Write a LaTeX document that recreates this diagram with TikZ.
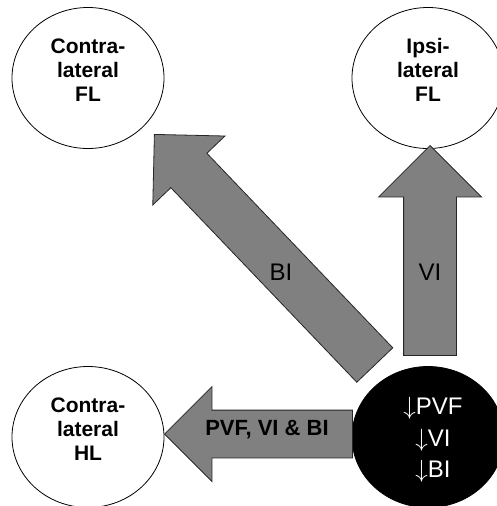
\documentclass[tikz,border=0pt]{standalone}
\usepackage{fontspec}
\setmainfont{Liberation Sans}
\usetikzlibrary{shapes.geometric,shapes.arrows}
\tikzset{
  limb/.style={ellipse,draw,line width=0.8pt,minimum width=152pt,minimum height=141pt,inner sep=0pt},
  limbtext/.style={align=center,font=\fontsize{21}{24}\selectfont\bfseries},
  bigarrow/.style={single arrow,draw=black!85,fill=gray,line width=0.8pt,inner xsep=0pt,inner ysep=25pt,
    single arrow tip angle=90,single arrow head extend=25pt},
  arrowtext/.style={font=\fontsize{24}{28}\selectfont}
}
\begin{document}
\begin{tikzpicture}[x=1pt,y=-1pt]
                \useasboundingbox (0,0) rectangle (496,506);
                %% limbs
                \node[limb] (cfl) at (88,78) {};
                \node[limb] (ifl) at (428,78) {};
                \node[limb] (chl) at (88,437) {};
                \node[limb,fill=black] (src) at (428,437) {};
                %% arrows
                \node[bigarrow,rotate=90,anchor=tip,inner ysep=26pt,minimum height=210pt] (vi) at (430,145) {};
                \node[bigarrow,rotate=133.7,anchor=tip,inner ysep=24.5pt,minimum height=319pt] (bi) at (154,134) {};
                \node[bigarrow,rotate=180,anchor=tip,inner ysep=23.5pt,single arrow head extend=23.5pt,minimum height=188pt] (all) at (164,434) {};
                %% labels
                \node[limbtext] (cfltext) at ([yshift=8pt]cfl.center) {Contra-\\lateral\\FL};
                \node[limbtext] (ifltext) at ([yshift=8pt]ifl.center) {Ipsi-\\lateral\\FL};
                \node[limbtext] (chltext) at ([yshift=8pt]chl.center) {Contra-\\lateral\\HL};
                \node[align=center,text=white,font=\fontsize{24}{31.5}\selectfont] (srctext) at (433,440) {$\downarrow$PVF\\$\downarrow$VI\\$\downarrow$BI};
                \node[arrowtext] (vitext) at (430,272) {VI};
                \node[arrowtext] (bitext) at (281,272) {BI};
                \node[font=\fontsize{22}{26}\selectfont\bfseries] (alltext) at (267,430) {PVF, VI \& BI};
\end{tikzpicture}
\end{document}
